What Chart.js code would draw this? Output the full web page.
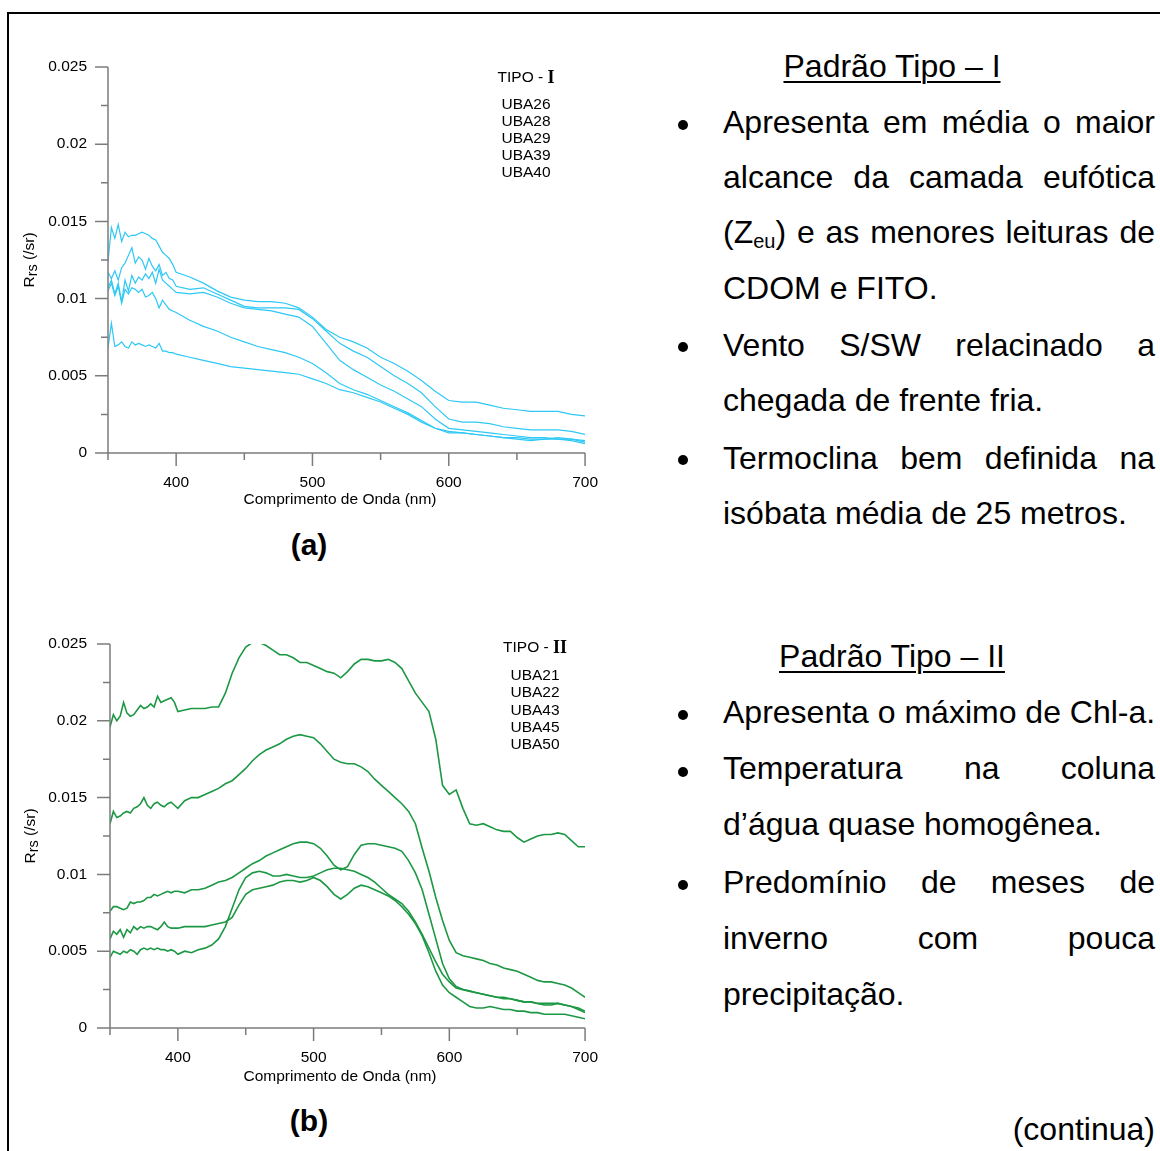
<!DOCTYPE html>
<html lang="pt">
<head>
<meta charset="utf-8">
<title>Rrs - Padrão Tipo I e II</title>
<script src="https://cdn.jsdelivr.net/npm/chart.js@4.4.1/dist/chart.umd.min.js"></script>
<style>
  html, body { margin: 0; padding: 0; background: #fff; }
  body { position: relative; width: 1160px; height: 1151px; overflow: hidden; font-family: 'Liberation Sans', Arial, sans-serif; color: #000; }
  #frame { position: absolute; left: 7px; top: 12px; width: 1400px; height: 1400px; border: 2px solid #000; }
  canvas { position: absolute; left: 0; }
  .ln { position: absolute; left: 723px; width: 432px; height: 40px; line-height: 40px; font-size: 32px; white-space: nowrap; }
  .j { white-space: normal; text-align: justify; text-align-last: justify; }
  .hd { position: absolute; left: 692px; width: 400px; text-align: center; height: 40px; line-height: 40px; font-size: 32px;
        text-decoration: underline; text-decoration-thickness: 2px; text-underline-offset: 4px; }
  .dot { position: absolute; left: 678px; width: 10px; height: 10px; border-radius: 50%; background: #000; }
  .cap { position: absolute; left: 259px; width: 100px; text-align: center; font-weight: bold; font-size: 30px; height: 40px; line-height: 40px; }
  .cont { position: absolute; left: 900px; width: 255px; text-align: right; font-size: 32px; height: 40px; line-height: 40px; }
  sub { font-size: 20px; vertical-align: -5px; line-height: 0; }
</style>
</head>
<body>
<div id="frame"></div>

<canvas id="chartA" width="618" height="500" style="top:20px"></canvas>
<div class="cap" style="top:525px">(a)</div>

<canvas id="chartB" width="618" height="500" style="top:596px"></canvas>
<div class="cap" style="top:1101px">(b)</div>

<!-- texto a direita -->
<div class="hd" style="top:46px">Padrão Tipo – I</div>
<div class="dot" style="top:120px"></div>
<div class="ln j" style="top:102px">Apresenta em média o maior</div>
<div class="ln j" style="top:157px">alcance da camada eufótica</div>
<div class="ln j" style="top:212px">(Z<sub>eu</sub>) e as menores leituras de</div>
<div class="ln" style="top:268px">CDOM e FITO.</div>
<div class="dot" style="top:342px"></div>
<div class="ln j" style="top:325px">Vento S/SW relacinado a</div>
<div class="ln" style="top:380px">chegada de frente fria.</div>
<div class="dot" style="top:455px"></div>
<div class="ln j" style="top:438px">Termoclina bem definida na</div>
<div class="ln" style="top:493px">isóbata média de 25 metros.</div>

<div class="hd" style="top:636px">Padrão Tipo – II</div>
<div class="dot" style="top:710px"></div>
<div class="ln" style="top:692px">Apresenta o máximo de Chl-a.</div>
<div class="dot" style="top:767px"></div>
<div class="ln j" style="top:748px">Temperatura na coluna</div>
<div class="ln" style="top:804px">d’água quase homogênea.</div>
<div class="dot" style="top:880px"></div>
<div class="ln j" style="top:862px">Predomínio de meses de</div>
<div class="ln j" style="top:918px">inverno com pouca</div>
<div class="ln" style="top:974px">precipitação.</div>

<div class="cont" style="top:1109px">(continua)</div>

<script>
// comprimentos de onda (nm)
const waveA = [350,352.5,355,357.5,360,362.5,365,367.5,370,372.5,375,377.5,380,382.5,385,387.5,390,392.5,395,397.5,400,
  410,420,430,440,450,460,470,480,490,500,510,520,530,540,550,560,570,580,590,600,610,620,630,640,650,660,670,680,690,700]

const waveB = [350,352.5,355,357.5,360,362.5,365,367.5,370,372.5,375,377.5,380,382.5,385,387.5,390,392.5,395,397.5,400,
  405,410,415,420,425,430,435,440,445,450,455,460,465,470,475,480,485,490,495,500,505,510,515,520,525,530,535,540,545,550,
  555,560,565,570,575,580,585,590,595,600,605,610,615,620,625,630,635,640,645,650,655,660,665,670,675,680,685,690,695,700]

// Tipo I - Rrs (/sr)
const namesA = ['UBA26', 'UBA28', 'UBA29', 'UBA39', 'UBA40']
const uba26 = [0.0124,0.0146,0.0139,0.0148,0.0137,0.0143,0.0140,0.0141,0.0141,0.0142,0.0143,0.0142,0.0141,0.0139,0.0138,0.0134,0.0130,0.0128,0.0126,0.0122,0.0117,
  0.0114,0.0110,0.0105,0.0101,0.0099,0.0098,0.0098,0.0097,0.0094,0.0088,0.0080,0.0075,0.0072,0.0068,0.0062,0.0058,0.0053,0.0047,0.0040,0.0034,0.0033,0.0033,0.0031,0.0029,0.0028,0.0027,0.0027,0.0027,0.0025,0.0024]
const uba28 = [0.0117,0.0113,0.0118,0.0112,0.0120,0.0123,0.0128,0.0133,0.0123,0.0127,0.0125,0.0119,0.0126,0.0121,0.0118,0.0122,0.0115,0.0117,0.0113,0.0112,0.0108,
  0.0106,0.0107,0.0103,0.0099,0.0095,0.0094,0.0094,0.0094,0.0093,0.0087,0.0079,0.0071,0.0066,0.0062,0.0056,0.0050,0.0045,0.0039,0.0030,0.0022,0.0020,0.0020,0.0019,0.0017,0.0016,0.0015,0.0015,0.0015,0.0014,0.0012]
const uba29 = [0.0107,0.0112,0.0103,0.0110,0.0098,0.0112,0.0105,0.0115,0.0110,0.0114,0.0112,0.0116,0.0113,0.0117,0.0110,0.0119,0.0112,0.0110,0.0108,0.0106,0.0104,
  0.0103,0.0104,0.0101,0.0097,0.0094,0.0093,0.0092,0.0090,0.0088,0.0082,0.0071,0.0060,0.0054,0.0049,0.0044,0.0040,0.0035,0.0030,0.0022,0.0016,0.0015,0.0014,0.0013,0.0012,0.0011,0.0010,0.0010,0.0009,0.0009,0.0008]
const uba39 = [0.0105,0.0110,0.0102,0.0108,0.0097,0.0106,0.0103,0.0107,0.0106,0.0104,0.0106,0.0101,0.0102,0.0104,0.0100,0.0094,0.0099,0.0096,0.0093,0.0092,0.0091,
  0.0086,0.0082,0.0079,0.0075,0.0072,0.0069,0.0067,0.0065,0.0062,0.0058,0.0052,0.0045,0.0041,0.0038,0.0034,0.0030,0.0026,0.0021,0.0016,0.0014,0.0013,0.0012,0.0011,0.0010,0.0010,0.0009,0.0009,0.0010,0.0009,0.0007]
const uba40 = [0.0068,0.0084,0.0069,0.0070,0.0072,0.0069,0.0068,0.0072,0.0070,0.0071,0.0070,0.0069,0.0070,0.0069,0.0068,0.0071,0.0066,0.0066,0.0065,0.0065,0.0064,
  0.0062,0.0060,0.0058,0.0056,0.0055,0.0054,0.0053,0.0052,0.0051,0.0048,0.0045,0.0041,0.0039,0.0036,0.0033,0.0029,0.0025,0.0020,0.0016,0.0013,0.0013,0.0012,0.0011,0.0010,0.0009,0.0008,0.0009,0.0009,0.0008,0.0006]

// Tipo II - Rrs (/sr)
const namesB = ['UBA21', 'UBA22', 'UBA43', 'UBA45', 'UBA50']
const uba21 = [0.0196,0.0204,0.0200,0.0203,0.0212,0.0205,0.0203,0.0204,0.0207,0.0210,0.0208,0.0209,0.0211,0.0209,0.0216,0.0212,0.0213,0.0214,0.0215,0.0212,0.0206,
  0.0207,0.0208,0.0208,0.0208,0.0209,0.0209,0.0218,0.0231,0.0241,0.0248,0.0251,0.0251,0.0249,0.0246,0.0243,0.0243,0.0241,0.0238,0.0238,0.0236,
  0.0234,0.0232,0.0231,0.0228,0.0232,0.0237,0.0240,0.0240,0.0239,0.0239,0.0240,0.0238,0.0234,0.0226,0.0218,0.0212,0.0206,0.0188,0.0158,0.0152,
  0.0155,0.0143,0.0133,0.0132,0.0133,0.0131,0.0129,0.0128,0.0128,0.0124,0.0121,0.0123,0.0125,0.0126,0.0126,0.0127,0.0126,0.0122,0.0118,0.0118]
const uba22 = [0.0133,0.0141,0.0137,0.0138,0.0140,0.0141,0.0140,0.0143,0.0144,0.0146,0.0150,0.0145,0.0143,0.0146,0.0147,0.0145,0.0144,0.0146,0.0147,0.0145,0.0143,
  0.0148,0.0150,0.0150,0.0152,0.0154,0.0156,0.0159,0.0161,0.0165,0.0169,0.0174,0.0178,0.0181,0.0183,0.0185,0.0188,0.0190,0.0191,0.0190,0.0189,
  0.0185,0.0180,0.0175,0.0173,0.0172,0.0172,0.0170,0.0167,0.0162,0.0158,0.0154,0.0150,0.0146,0.0141,0.0133,0.0117,0.0102,0.0085,0.0070,0.0057,
  0.0049,0.0047,0.0046,0.0045,0.0044,0.0042,0.0041,0.0039,0.0038,0.0037,0.0035,0.0033,0.0031,0.0030,0.0030,0.0029,0.0028,0.0026,0.0023,0.0020]
const uba43 = [0.0076,0.0079,0.0079,0.0078,0.0077,0.0078,0.0082,0.0081,0.0082,0.0082,0.0083,0.0085,0.0085,0.0087,0.0086,0.0087,0.0088,0.0089,0.0088,0.0089,0.0089,
  0.0088,0.0090,0.0090,0.0091,0.0093,0.0095,0.0096,0.0098,0.0101,0.0104,0.0107,0.0109,0.0112,0.0114,0.0116,0.0118,0.0120,0.0121,0.0121,0.0120,
  0.0117,0.0112,0.0106,0.0103,0.0105,0.0113,0.0119,0.0120,0.0120,0.0119,0.0118,0.0117,0.0115,0.0109,0.0101,0.0090,0.0074,0.0058,0.0042,0.0032,
  0.0027,0.0025,0.0024,0.0023,0.0022,0.0021,0.0020,0.0019,0.0019,0.0018,0.0017,0.0017,0.0016,0.0016,0.0016,0.0016,0.0015,0.0014,0.0012,0.0010]
const uba45 = [0.0046,0.0050,0.0049,0.0048,0.0050,0.0049,0.0051,0.0050,0.0048,0.0051,0.0052,0.0051,0.0052,0.0051,0.0052,0.0051,0.0051,0.0050,0.0051,0.0050,0.0048,
  0.0050,0.0049,0.0051,0.0052,0.0054,0.0058,0.0066,0.0078,0.0090,0.0098,0.0101,0.0102,0.0101,0.0099,0.0099,0.0100,0.0099,0.0098,0.0098,0.0099,
  0.0101,0.0103,0.0104,0.0104,0.0103,0.0102,0.0100,0.0098,0.0095,0.0091,0.0087,0.0084,0.0081,0.0076,0.0069,0.0061,0.0052,0.0043,0.0035,0.0030,
  0.0026,0.0025,0.0024,0.0023,0.0022,0.0021,0.0020,0.0020,0.0019,0.0018,0.0017,0.0017,0.0016,0.0015,0.0015,0.0016,0.0015,0.0014,0.0013,0.0011]
const uba50 = [0.0058,0.0063,0.0061,0.0064,0.0059,0.0064,0.0062,0.0066,0.0064,0.0066,0.0065,0.0066,0.0066,0.0065,0.0064,0.0066,0.0069,0.0066,0.0065,0.0065,0.0065,
  0.0066,0.0066,0.0066,0.0066,0.0067,0.0068,0.0069,0.0072,0.0080,0.0087,0.0090,0.0091,0.0092,0.0093,0.0095,0.0096,0.0096,0.0095,0.0096,0.0098,
  0.0096,0.0092,0.0087,0.0084,0.0087,0.0091,0.0093,0.0092,0.0090,0.0088,0.0086,0.0083,0.0079,0.0074,0.0068,0.0060,0.0049,0.0037,0.0028,0.0023,
  0.0020,0.0017,0.0014,0.0013,0.0013,0.0014,0.0013,0.0012,0.0012,0.0011,0.0011,0.0010,0.0010,0.0009,0.0009,0.0009,0.0009,0.0008,0.0007,0.0006]

// eixos
const xTickValues = [400, 500, 600, 700]
const xTickLabels = ['400', '500', '600', '700']
const yTickValues = [0, 0.005, 0.01, 0.015, 0.02, 0.025]
const yTickLabels = ['0', '0.005', '0.01', '0.015', '0.02', '0.025']

const FONT = "'Liberation Sans', Arial, sans-serif"

function toPoints(wave, values) {
    return wave.map((w, i) => ({ x: w, y: values[i] }))
}

// eixos no estilo do grafico original, titulo do eixo y e lista de estacoes
const paperAxes = {
    id: 'paperAxes',
    afterDraw(chart, args, opts) {
        const ctx = chart.ctx
        const x = chart.scales.x
        const y = chart.scales.y
        const left = x.getPixelForValue(350)
        const right = x.getPixelForValue(700)
        const bottom = y.getPixelForValue(0)
        const top = y.getPixelForValue(0.025)
        ctx.save()
        ctx.strokeStyle = '#7c7c7c'
        ctx.lineWidth = 1.5
        ctx.beginPath()
        ctx.moveTo(left, top)
        ctx.lineTo(left, bottom)
        ctx.lineTo(right, bottom)
        for (let i = 0; i <= 10; i++) {
            const py = y.getPixelForValue(i * 0.0025)
            ctx.moveTo(left, py)
            ctx.lineTo(left - (i % 2 === 0 ? 13 : 7), py)
        }
        for (let nm = 350; nm <= 700; nm += 50) {
            const px = x.getPixelForValue(nm)
            ctx.moveTo(px, bottom)
            ctx.lineTo(px, bottom + (nm % 100 === 0 ? 13 : 7))
        }
        ctx.stroke()

        // titulo eixo x
        ctx.fillStyle = '#000'
        ctx.font = '15.5px ' + FONT
        ctx.textAlign = 'center'
        ctx.textBaseline = 'middle'
        ctx.fillText('Comprimento de Onda (nm)', opts.xTitle[0], opts.xTitle[1])

        // titulo eixo y: R com subscrito rs
        ctx.save()
        ctx.translate(opts.yTitle[0], opts.yTitle[1])
        ctx.rotate(-Math.PI / 2)
        ctx.textAlign = 'left'
        ctx.textBaseline = 'alphabetic'
        const big = '15.5px ' + FONT
        const small = '14.5px ' + FONT
        ctx.font = big
        const wR = ctx.measureText('R').width
        const wTail = ctx.measureText(' (/sr)').width
        ctx.font = small
        const wSub = ctx.measureText('rs').width
        let cx = -(wR + wSub + wTail) / 2
        ctx.font = big
        ctx.fillText('R', cx, 4)
        cx += wR
        ctx.font = small
        ctx.fillText('rs', cx, 6.5)
        cx += wSub
        ctx.font = big
        ctx.fillText(' (/sr)', cx, 4)
        ctx.restore()

        // lista TIPO - N e estacoes
        const lx = opts.legend.x
        ctx.textBaseline = 'middle'
        ctx.font = '15.5px ' + FONT
        const wTipo = ctx.measureText('TIPO - ').width
        ctx.font = 'bold 18px "Liberation Serif", "Times New Roman", serif'
        const wNum = ctx.measureText(opts.legend.tipo).width
        let tx = lx - (wTipo + wNum) / 2
        ctx.textAlign = 'left'
        ctx.font = '15.5px ' + FONT
        ctx.fillText('TIPO - ', tx, opts.legend.y)
        ctx.font = 'bold 18px "Liberation Serif", "Times New Roman", serif'
        ctx.fillText(opts.legend.tipo, tx + wTipo, opts.legend.y)
        ctx.font = '15.5px ' + FONT
        ctx.textAlign = 'center'
        chart.data.datasets.forEach((ds, i) => {
            ctx.fillText(ds.label, lx, opts.legend.first + i * opts.legend.step)
        })
        ctx.restore()
    }
}

function makeChart(id, wave, names, series, color, width, axisW, padTop, xAxisH, yPad, plugOpts) {
    const datasets = series.map((s, i) => ({
        label: names[i],
        data: toPoints(wave, s),
        borderColor: color,
        borderWidth: width,
        pointRadius: 0,
        tension: 0,
        fill: false
    }))
    return new Chart(document.getElementById(id), {
        type: 'line',
        data: { datasets: datasets },
        options: {
            responsive: false,
            animation: false,
            devicePixelRatio: 1,
            layout: { padding: { left: 0, right: 25, top: padTop, bottom: 0 } },
            plugins: {
                legend: { display: false },
                tooltip: { enabled: false },
                paperAxes: plugOpts
            },
            scales: {
                x: {
                    type: 'linear',
                    min: 350,
                    max: 700,
                    afterBuildTicks: ax => { ax.ticks = xTickValues.map(v => ({ value: v })) },
                    afterFit: s => { s.height = xAxisH },
                    ticks: {
                        callback: (v, i) => xTickLabels[i],
                        padding: 20,
                        maxRotation: 0,
                        color: '#000',
                        font: { size: 15.5, family: FONT }
                    },
                    grid: { display: false, drawTicks: false },
                    border: { display: false }
                },
                y: {
                    type: 'linear',
                    min: 0,
                    max: 0.025,
                    afterBuildTicks: ax => { ax.ticks = yTickValues.map(v => ({ value: v })) },
                    afterFit: s => { s.width = axisW },
                    ticks: {
                        callback: (v, i) => yTickLabels[i],
                        padding: yPad,
                        color: '#000',
                        font: { size: 15.5, family: FONT }
                    },
                    grid: { display: false, drawTicks: false },
                    border: { display: false }
                }
            }
        },
        plugins: [paperAxes]
    })
}

makeChart('chartA', waveA, namesA, [uba26, uba28, uba29, uba39, uba40], 'rgb(45, 200, 245)', 1.2,
    108, 47, 67, 21,
    { xTitle: [340, 480], yTitle: [30, 240], legend: { x: 526, y: 58, tipo: 'I', first: 85, step: 16.9 } })

makeChart('chartB', waveB, namesB, [uba21, uba22, uba43, uba45, uba50], 'rgb(28, 152, 68)', 1.6,
    110, 48, 68, 23,
    { xTitle: [340, 481], yTitle: [31, 240], legend: { x: 535, y: 52, tipo: 'II', first: 80, step: 17.2 } })
</script>
</body>
</html>
